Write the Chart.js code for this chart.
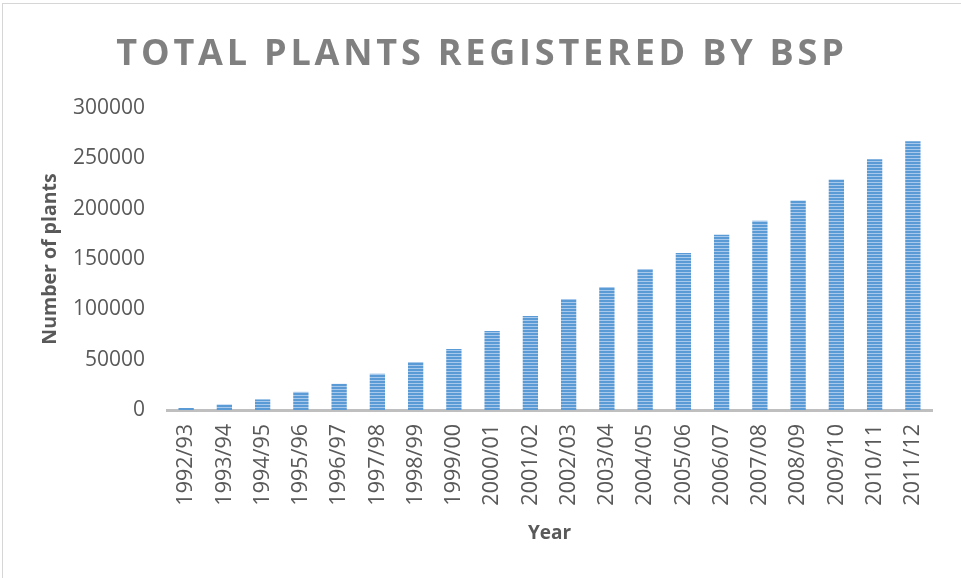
<!DOCTYPE html>
<html>
<head>
<meta charset="utf-8">
<script src="https://cdn.jsdelivr.net/npm/chart.js@4"></script>
<style>
  html, body { margin: 0; padding: 0; background: #fff; }
  #wrap { position: relative; width: 961px; height: 578px; }
  #frame { position: absolute; left: 2px; top: 3px; right: 0; bottom: 0; border-left: 1px solid #d6d6d6; border-top: 1px solid #d6d6d6; pointer-events: none; }
  canvas { position: absolute; left: 0; top: 0; }
</style>
</head>
<body>
<div id="wrap">
  <canvas id="c" width="961" height="578"></canvas>
  <div id="frame"></div>
</div>
<script>
const categories = ["1992/93","1993/94","1994/95","1995/96","1996/97","1997/98","1998/99","1999/00","2000/01","2001/02","2002/03","2003/04","2004/05","2005/06","2006/07","2007/08","2008/09","2009/10","2010/11","2011/12"];
const plants = [2000, 5500, 10500, 18000, 26000, 36000, 47700, 60600, 78500, 93400, 110300, 122200, 140000, 156000, 174000, 188000, 208000, 229000, 249000, 267000];
const yTicks = [0, 50000, 100000, 150000, 200000, 250000, 300000];
const titleText = "TOTAL PLANTS REGISTERED BY BSP";

const FONT = "'Open Sans', 'Liberation Sans', sans-serif";

function stripePattern() {
  const p = document.createElement('canvas');
  p.width = 4; p.height = 3;
  const g = p.getContext('2d');
  g.fillStyle = '#5B9BD5';
  g.fillRect(0, 0, 4, 2);
  g.fillStyle = '#A8C9EC';
  g.fillRect(0, 2, 4, 1);
  return document.getElementById('c').getContext('2d').createPattern(p, 'repeat');
}

const titlePlugin = {
  id: 'spacedTitle',
  afterDraw(chart) {
    const ctx = chart.ctx;
    ctx.save();
    ctx.font = "bold 36px " + FONT;
    ctx.fillStyle = '#808080';
    ctx.textAlign = 'center';
    ctx.textBaseline = 'middle';
    try { ctx.letterSpacing = '3.8px'; } catch (e) {}
    ctx.fillText(titleText, 482, 55);
    ctx.restore();
  }
};

new Chart(document.getElementById('c'), {
  type: 'bar',
  data: {
    labels: categories,
    datasets: [{
      data: plants,
      backgroundColor: stripePattern(),
      borderWidth: 0,
      barPercentage: 0.4,
      categoryPercentage: 1.0
    }]
  },
  options: {
    responsive: false,
    animation: false,
    devicePixelRatio: 1,
    layout: { padding: { top: 108, right: 29, left: 0, bottom: 0 } },
    plugins: { legend: { display: false }, tooltip: { enabled: false }, title: { display: false } },
    scales: {
      x: {
        grid: { display: false, drawTicks: false },
        border: { display: true, color: '#BFBFBF', width: 3 },
        ticks: { color: '#595959', font: { family: FONT, size: 21.5 }, maxRotation: 90, minRotation: 90, padding: 14, autoSkip: false },
        title: { display: true, text: 'Year', color: '#595959', font: { family: FONT, size: 19, weight: 'bold' }, padding: { top: 0, bottom: 33 } },
        afterFit(scale) { scale.height = 168; }
      },
      y: {
        min: 0, max: 300000,
        afterBuildTicks(scale) { scale.ticks = yTicks.map(v => ({ value: v })); },
        grid: { display: false, drawTicks: false },
        border: { display: false },
        ticks: { color: '#595959', font: { family: FONT, size: 21 }, padding: 22, callback: (v) => String(v) },
        title: { display: true, text: 'Number of plants', color: '#595959', font: { family: FONT, size: 19.5, weight: 'bold' }, padding: { top: 39, bottom: 0 } },
        afterFit(scale) { scale.width = 167; }
      }
    }
  },
  plugins: [titlePlugin]
});
</script>
</body>
</html>
